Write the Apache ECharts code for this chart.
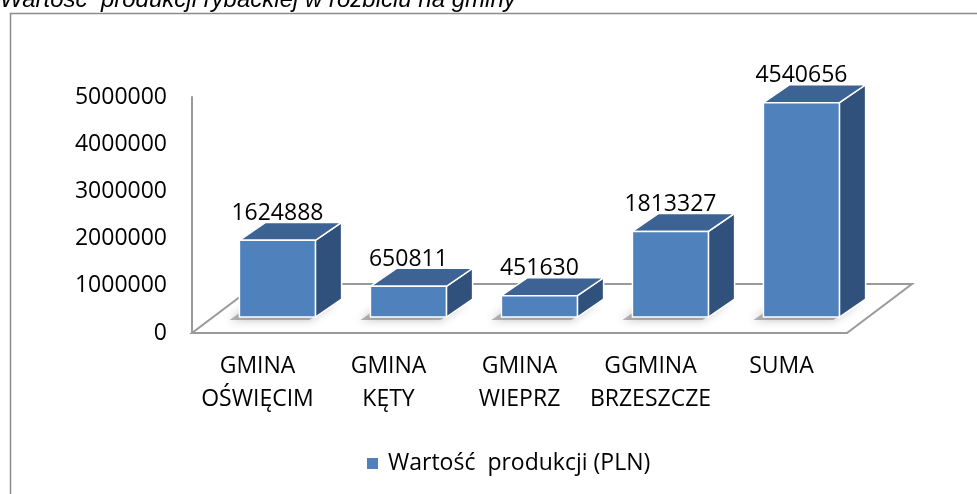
<!DOCTYPE html>
<html>
<head>
<meta charset="utf-8">
<script src="https://cdn.jsdelivr.net/npm/echarts@6/dist/echarts.min.js"></script>
<style>
html,body{margin:0;padding:0;background:#fff;}
#chart{width:977px;height:494px;}
</style>
</head>
<body>
<div id="chart"></div>
<script>
const titleText = 'Wartość  produkcji rybackiej w rozbiciu na gminy';
const seriesName = 'Wartość  produkcji (PLN)';
const categories = ['GMINA\nOŚWIĘCIM', 'GMINA\nKĘTY', 'GMINA\nWIEPRZ', 'GGMINA\nBRZESZCZE', 'SUMA'];
const values = [1624888, 650811, 451630, 1813327, 4540656];
const yMin = 0, yMax = 5000000, yInterval = 1000000;

const FRONT = '#4F81BD', SIDE = '#30517B', TOP = '#3C6393';
const FONT = '"Open Sans", "Noto Sans", sans-serif';

const chart = echarts.init(document.getElementById('chart'), null, {renderer: 'canvas'});

function floorItem(params, api) {
  const bw = api.size([1, 0])[0];
  const p0 = api.coord([0, 0]);
  const p1 = api.coord([categories.length - 1, 0]);
  const L = p0[0] - bw / 2, R = p1[0] + bw / 2, Y = p0[1];
  const dx = bw * 0.496, dy = -bw * 0.374;
  return {
    type: 'polygon',
    shape: {points: [[L, Y], [R, Y], [R + dx, Y + dy], [L + dx, Y + dy]]},
    style: {fill: '#ffffff', stroke: '#9a9a9a', lineWidth: 2},
    z2: 0
  };
}

function barItem(params, api) {
  const i = api.value(0), v = api.value(1);
  const bw = api.size([1, 0])[0];
  const base = api.coord([i, 0]);
  const top = api.coord([i, v]);
  const barW = bw * 0.58;
  const fdx = bw * 0.152, fdy = -bw * 0.122;
  const ddx = bw * 0.2, ddy = -bw * 0.137;
  const x0 = base[0] - barW / 2 + fdx, x1 = x0 + barW;
  const yB = base[1] + fdy, yT = top[1] + fdy;
  const edge = {stroke: '#ffffff', lineWidth: 1.5};
  return {
    type: 'group',
    children: [
      {
        type: 'polygon',
        shape: {points: [[x0 - 10, yB + 3], [x1 - 6, yB + 3], [x1 + ddx - 6, yB + ddy + 3], [x0 + ddx - 10, yB + ddy + 3]]},
        style: {fill: 'rgba(120,120,120,0.55)', shadowBlur: 10, shadowColor: 'rgba(60,60,60,0.6)'},
        z2: 1
      },
      {
        type: 'polygon',
        shape: {points: [[x1, yT], [x1 + ddx, yT + ddy], [x1 + ddx, yB + ddy], [x1, yB]]},
        style: Object.assign({fill: SIDE}, edge),
        z2: 2
      },
      {
        type: 'polygon',
        shape: {points: [[x0, yT], [x0 + ddx, yT + ddy], [x1 + ddx, yT + ddy], [x1, yT]]},
        style: Object.assign({fill: TOP}, edge),
        z2: 2
      },
      {
        type: 'rect',
        shape: {x: x0, y: yT, width: barW, height: yB - yT},
        style: Object.assign({fill: FRONT}, edge),
        z2: 3
      },
      {
        type: 'text',
        style: {
          text: String(v), x: (x0 + x1) / 2, y: yT + ddy - 9,
          align: 'center', verticalAlign: 'middle',
          font: '23px ' + FONT, fill: '#000000'
        },
        z2: 4
      }
    ]
  };
}

const option = {
  animation: false,
  backgroundColor: '#ffffff',
  graphic: [
    {
      type: 'rect', left: 8, top: 11, z: -10, silent: true,
      shape: {x: 0, y: 0, width: 1100, height: 700},
      style: {fill: 'none', stroke: '#8c8c8c', lineWidth: 1.5}
    },
    {
      type: 'text', x: 0, y: 12, z: 10,
      style: {
        text: titleText, font: 'italic 24px "Liberation Sans", Arial, sans-serif',
        fill: '#000', align: 'left', verticalAlign: 'bottom'
      }
    }
  ],
  legend: {
    data: [{name: seriesName, icon: 'rect'}],
    left: 362, top: 447,
    itemWidth: 11, itemHeight: 11,
    textStyle: {fontSize: 23, fontFamily: FONT, color: '#000', padding: [0, 0, 0, 5]}
  },
  grid: {left: 192, right: 130, top: 97, bottom: 161, containLabel: false},
  xAxis: {
    type: 'category',
    data: categories,
    axisLine: {show: false},
    axisTick: {show: false},
    axisLabel: {
      interval: 0, margin: 17, color: '#000', fontSize: 23,
      fontFamily: FONT, lineHeight: 33
    }
  },
  yAxis: {
    type: 'value',
    min: yMin, max: yMax, interval: yInterval,
    axisLine: {show: true, lineStyle: {color: '#9a9a9a', width: 2}},
    axisTick: {show: false},
    splitLine: {show: false},
    axisLabel: {margin: 25, color: '#000', fontSize: 23, fontFamily: FONT, formatter: v => String(v)}
  },
  series: [
    {
      type: 'custom', name: 'floor', silent: true, z: 1,
      renderItem: floorItem,
      data: [[0, 0]]
    },
    {
      type: 'custom', name: seriesName, z: 2,
      itemStyle: {color: FRONT},
      renderItem: barItem,
      encode: {x: 0, y: 1},
      data: values.map((v, i) => [i, v])
    }
  ]
};
chart.setOption(option);
</script>
</body>
</html>
